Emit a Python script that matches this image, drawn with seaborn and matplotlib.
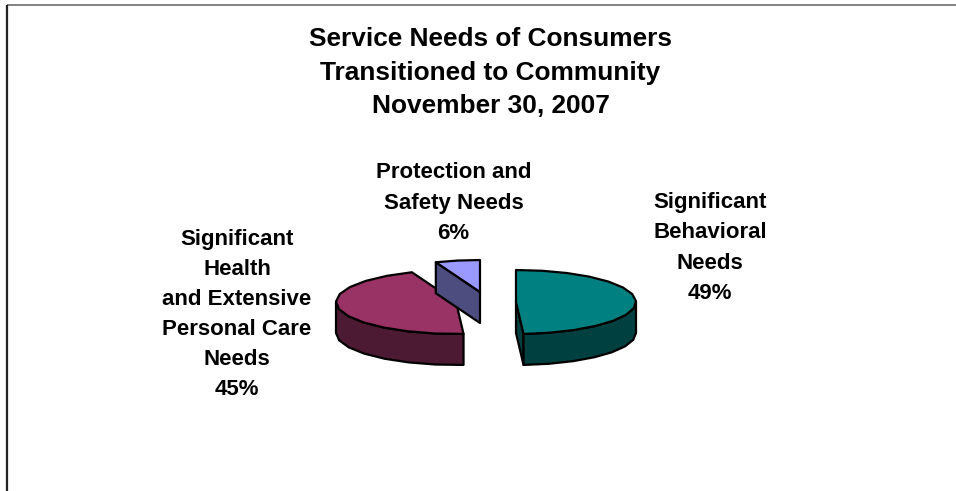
import numpy as np
import matplotlib
matplotlib.use("Agg")
import matplotlib.pyplot as plt
from matplotlib.patches import Polygon
import seaborn as sns

# Service needs, percent of consumers, clockwise from 12 o'clock
categories = ["Significant\nBehavioral\nNeeds", "Significant\nHealth\nand Extensive\nPersonal Care\nNeeds", "Protection and\nSafety Needs"]
shares = [49, 45, 6]
title_text = "Service Needs of Consumers\nTransitioned to Community\nNovember 30, 2007"

top_colors = ["#008080", "#993366", "#9999FF"]
side_colors = ["#004040", "#4D1A33", "#4D4D80"]

# Exploded apex of each slice and the label anchors, in pixels
apex = [(516, 302), (456, 302), (480, 292)]
label_xy = [(710, 248), (237, 314.5), (453.5, 203)]
RX, RY, DEPTH = 120, 32, 31

sns.set_theme(style="white")
plt.rcParams["font.family"] = ["Liberation Sans", "DejaVu Sans"]

fig = plt.figure(figsize=(9.56, 4.91), dpi=100)
ax = fig.add_axes([0, 0, 1, 1])
ax.set_xlim(0, 956)
ax.set_ylim(491, 0)
ax.axis("off")

# Chart frame runs off the right and bottom of the canvas
ax.plot([956, 7], [5, 5], color="#777777", lw=1.3, solid_capstyle="butt")
ax.plot([7, 7], [5, 491], color="#222222", lw=1.6, solid_capstyle="butt")

def rim(cx, cy, a0, a1):
    """Points on the elliptical rim, a coarse arc from angle a0 to a1 (clockwise from north)."""
    n = max(2, int(round((a1 - a0) / 13)) + 1)
    t = np.radians(np.linspace(a0, a1, n))
    return np.column_stack([cx + RX * np.sin(t), cy - RY * np.cos(t)])

def face(pts, color, z):
    ax.add_patch(Polygon(pts, closed=True, facecolor=color, edgecolor="black",
                         lw=1.6, joinstyle="round", zorder=z))

fractions = np.array(shares) / sum(shares)
edges = np.concatenate([[0], np.cumsum(fractions) * 360])

for i, (cx, cy) in enumerate(apex):
    a0, a1 = edges[i], edges[i + 1]
    down = np.array([0, DEPTH])
    centre = np.array([cx, cy], float)
    # Radial cut faces: drawn only where the outward normal points toward the viewer
    for ang, sign in ((a0, -1), (a1, 1)):
        rad = np.radians(ang)
        if sign * np.sin(rad) > 1e-6:
            end = centre + [RX * np.sin(rad), -RY * np.cos(rad)]
            face([centre, end, end + down, centre + down], side_colors[i], 2 + i)
    # Outer wall: only the part of the rim on the near half
    w0, w1 = max(a0, 90), min(a1, 270)
    if w1 > w0:
        arc = rim(cx, cy, w0, w1)
        face(np.vstack([arc, (arc + down)[::-1]]), side_colors[i], 2 + i)
    # Top face
    face(np.vstack([[centre], rim(cx, cy, a0, a1)]), top_colors[i], 3 + i)

ax.text(490.5, 72.5, title_text, ha="center", va="center", fontsize=18.9, fontweight="bold",
        color="black", linespacing=1.52)

for text, share, (x, y) in zip(categories, shares, label_xy):
    ax.text(x, y, f"{text}\n{share}%", ha="center", va="center", fontsize=16,
            fontweight="bold", color="black", linespacing=1.57)

fig.savefig("out.png", dpi=100, facecolor="white")
